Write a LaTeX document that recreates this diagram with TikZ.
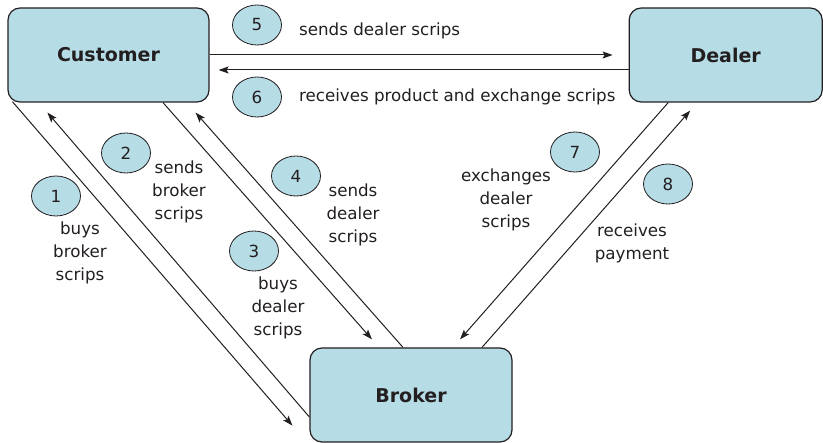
\documentclass[tikz,border=0pt]{standalone}
\usepackage{fontspec}
\setmainfont{DejaVu Sans}
\usetikzlibrary{positioning, arrows.meta, shapes.geometric, calc, backgrounds}
\definecolor{boxblue}{RGB}{182,220,230}
\definecolor{ink}{RGB}{35,31,32}

\begin{document}
\begin{tikzpicture}[
		x=1pt, y=-1pt,
		>={Stealth[length=10pt, width=7pt, inset=2pt]},
		party/.style={draw=ink, line width=1.2pt, fill=boxblue, rounded corners=12pt, minimum width=201pt, minimum height=94pt, font=\fontsize{19}{22}\selectfont\bfseries, text=ink},
		stepnum/.style={ellipse, draw=ink, line width=0.8pt, fill=boxblue, minimum width=49pt, minimum height=40pt, inner sep=0pt, font=\fontsize{16.7}{20}\selectfont, text=ink},
		note/.style={align=center, inner sep=0pt, font=\fontsize{16.7}{23}\selectfont, text=ink},
		flow/.style={->, line width=1pt, draw=ink}
		]
		\useasboundingbox (0,0) rectangle (823,443);
		
		% ==========================================
		% 1. THE THREE PARTIES
		% ==========================================
		\node[party] (customer) at (108.5,55) {Customer};
		\node[party, minimum width=193pt, right=419pt of customer] (dealer) {Dealer};
		\node[party, minimum width=202pt] (broker) at (411,395) {Broker};
		
		% ==========================================
		% 2. STEP NUMBERS AND THEIR TEXTS
		% ==========================================
		\node[stepnum] (n1) at (56,196) {1};
		\node[note] (t1) at (80,253) {buys\\broker\\scrips};
		
		\node[stepnum] (n2) at (126,153) {2};
		\node[note] (t2) at (179,192) {sends\\broker\\scrips};
		
		\node[stepnum] (n3) at (254,251) {3};
		\node[note] (t3) at (278,308) {buys\\dealer\\scrips};
		
		\node[stepnum] (n4) at (296,176) {4};
		\node[note] (t4) at (353,215) {sends\\dealer\\scrips};
		
		\node[stepnum] (n5) at (257,25) {5};
		\node[note, right=17pt of n5, yshift=-6pt] (t5) {sends dealer scrips};
		
		\node[stepnum] (n6) at (257,97) {6};
		\node[note, right=17pt of n6] (t6) {receives product and exchange scrips};
		
		\node[stepnum] (n7) at (575,152) {7};
		\node[note] (t7) at (506,200) {exchanges\\dealer\\scrips};
		
		\node[stepnum] (n8) at (668,184) {8};
		\node[note] (t8) at (632,243) {receives\\payment};
		
		% ==========================================
		% 3. FLOWS BETWEEN THE PARTIES
		% ==========================================
		\begin{scope}[on background layer]
			% customer <-> dealer
			\draw[flow, shorten >=16pt] (customer.east) -- (dealer.west);
			\draw[flow, shorten >=9pt] ([yshift=-15pt]dealer.west) -- ([yshift=-15pt]customer.east);
			
			% customer <-> broker
			\draw[flow] ($(customer.south west)+(5,-1)$) -- ($(broker.south west)+(-17,-17)$);
			\draw[flow] ($(broker.west)+(0,22)$) -- ($(customer.south west)+(40,10)$);
			\draw[flow] ($(customer.south)+(54.5,0)$) -- ($(broker.north)+(-39,-8)$);
			\draw[flow] ($(broker.north)+(-8,0)$) -- ($(customer.south east)+(-14,10)$);
			
			% dealer <-> broker
			\draw[flow] ($(dealer.south)+(-57.5,0)$) -- ($(broker.north)+(49,-8)$);
			\draw[flow] ($(broker.north)+(71,0)$) -- ($(dealer.south)+(-35.5,8)$);
		\end{scope}
		
	\end{tikzpicture}
\end{document}
